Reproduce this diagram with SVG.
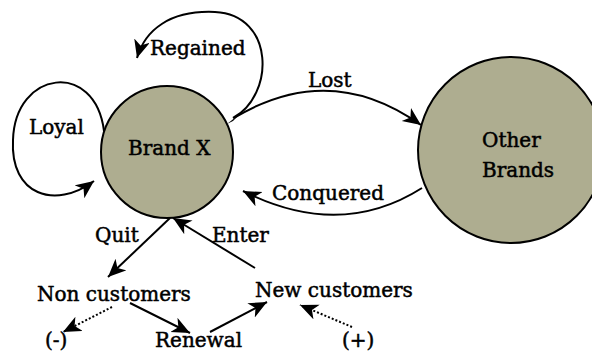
<svg xmlns="http://www.w3.org/2000/svg" width="592" height="358" viewBox="0 0 592 358">
<style>
text{font-family:"DejaVu Serif","Liberation Serif",serif;font-size:20px;fill:#000;stroke:#000;stroke-width:0.5}
.node{fill:#AEAD90;stroke:#000;stroke-width:2}
.edge{fill:none;stroke:#000;stroke-width:2}
.dot{fill:none;stroke:#000;stroke-width:2;stroke-dasharray:2 2}
</style>
<defs>
<marker id="ah" markerUnits="userSpaceOnUse" markerWidth="20" markerHeight="18" refX="18" refY="8" orient="auto" viewBox="0 0 20 18">
<path d="M0,0 L18,8 L0,16 L5,8 z" fill="#000"/>
</marker>
</defs>
<g id="brandx">
<circle class="node" cx="167" cy="152" r="66"/>
<text x="128" y="155">Brand X</text>
</g>
<g id="other">
<circle class="node" cx="511" cy="150" r="93"/>
<text x="482" y="147">Other</text>
<text x="482" y="177">Brands</text>
</g>
<g id="noncustomers"><text x="37" y="301">Non customers</text></g>
<g id="newcustomers"><text x="255" y="297">New customers</text></g>
<g id="minus"><text x="45" y="347">(-)</text></g>
<g id="renewal"><text x="155" y="347">Renewal</text></g>
<g id="plus"><text x="342" y="347">(+)</text></g>
<g id="connectors">
<path class="edge" d="M104,131 C95,60 15,70 13,140 C10,195 55,210 94,181" marker-end="url(#ah)"/>
<path class="edge" d="M233,118 C275,95 275,15 215,12 C170,10 145,30 137,58" marker-end="url(#ah)"/>
<path class="edge" d="M234,118 Q330,60 421,125" marker-end="url(#ah)"/>
<path class="edge" d="M422,188 Q340,240 243,191" marker-end="url(#ah)"/>
<path class="edge" d="M170,218 L108,277" marker-end="url(#ah)"/>
<path class="edge" d="M255,268 L173,218" marker-end="url(#ah)"/>
<path class="dot" d="M112,307 L63,332" marker-end="url(#ah)"/>
<path class="edge" d="M130,303 L190,333" marker-end="url(#ah)"/>
<path class="edge" d="M210,332 L267,302" marker-end="url(#ah)"/>
<path class="dot" d="M352,327 L300,305" marker-end="url(#ah)"/>
<path d="M227,124 L241,113 L233,121 z" fill="#000"/>
<text x="29" y="134">Loyal</text>
<text x="150" y="55">Regained</text>
<text x="308" y="87">Lost</text>
<text x="272" y="200">Conquered</text>
<text x="95" y="242">Quit</text>
<text x="212" y="242">Enter</text>
</g>
</svg>
